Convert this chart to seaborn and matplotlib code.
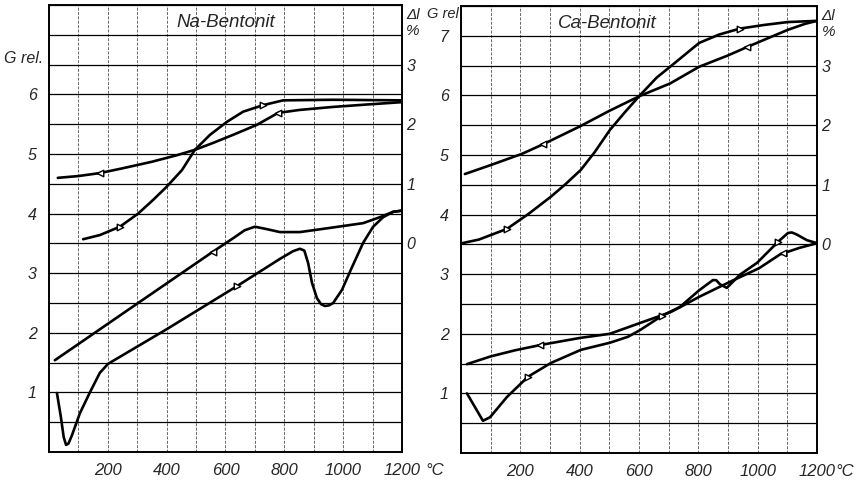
import numpy as np
import pandas as pd
import seaborn as sns
import matplotlib.pyplot as plt

# Na-Bentonit: length change (right axis, %) and relative modulus (left axis)
na_dl_cool_t = [30, 100, 173, 250, 350, 435, 496, 560, 630, 707, 779, 853, 966, 1080, 1200]
na_dl_cool = [1.10, 1.13, 1.18, 1.26, 1.37, 1.48, 1.57, 1.69, 1.83, 1.99, 2.19, 2.24, 2.29, 2.33, 2.37]
na_dl_heat_t = [116, 173, 241, 303, 354, 400, 452, 496, 547, 605, 660, 728, 796, 966, 1200]
na_dl_heat = [0.07, 0.14, 0.28, 0.50, 0.73, 0.95, 1.23, 1.57, 1.82, 2.04, 2.21, 2.32, 2.40, 2.41, 2.40]
na_g_cool_t = [20, 300, 560, 630, 665, 700, 740, 785, 853, 955, 1068, 1125, 1170, 1200]
na_g_cool = [1.54, 2.49, 3.37, 3.60, 3.72, 3.78, 3.74, 3.69, 3.69, 3.76, 3.84, 3.94, 4.03, 4.05]
na_g_heat_t = [27, 40, 50, 58, 66, 78, 105, 139, 173, 201, 400, 638, 785, 830, 853, 868, 881,
               894, 911, 925, 938, 952, 966, 996, 1030, 1068, 1102, 1136, 1170, 1200]
na_g_heat = [0.99, 0.60, 0.25, 0.12, 0.14, 0.28, 0.65, 1.00, 1.33, 1.48, 2.06, 2.78, 3.24, 3.37, 3.41, 3.38, 3.17,
             2.84, 2.58, 2.48, 2.45, 2.46, 2.50, 2.72, 3.10, 3.51, 3.78, 3.94, 4.03, 4.05]

# Ca-Bentonit
ca_dl_cool_t = [13, 100, 206, 277, 401, 500, 603, 705, 803, 900, 964, 1040, 1102, 1160, 1200]
ca_dl_cool = [1.18, 1.33, 1.52, 1.68, 1.98, 2.24, 2.49, 2.70, 2.98, 3.17, 3.31, 3.47, 3.60, 3.70, 3.75]
ca_dl_heat_t = [4, 60, 155, 230, 303, 350, 404, 451, 502, 553, 603, 660, 705, 803, 870, 940, 1020, 1102, 1200]
ca_dl_heat = [0.02, 0.08, 0.26, 0.52, 0.80, 1.00, 1.25, 1.55, 1.92, 2.22, 2.50, 2.80, 2.98, 3.38, 3.52, 3.62,
              3.68, 3.73, 3.75]
ca_g_cool_t = [20, 100, 180, 266, 401, 502, 603, 705, 740, 803, 906, 1005, 1075, 1140, 1200]
ca_g_cool = [1.49, 1.62, 1.72, 1.81, 1.93, 2.00, 2.18, 2.36, 2.45, 2.62, 2.87, 3.10, 3.33, 3.44, 3.52]
ca_g_heat_t = [20, 74, 98, 155, 226, 303, 404, 502, 563, 603, 677, 738, 803, 849, 860, 873, 896,
               940, 998, 1068, 1102, 1115, 1130, 1166, 1200]
ca_g_heat = [1.00, 0.54, 0.60, 0.94, 1.28, 1.51, 1.73, 1.85, 1.95, 2.06, 2.30, 2.45, 2.73, 2.90, 2.90, 2.83, 2.77,
             2.99, 3.19, 3.54, 3.69, 3.70, 3.67, 3.57, 3.52]

# temperatures where the little direction arrows sit
na_arrows = {'dl_cool': [173, 779], 'dl_heat': [241, 728], 'g_cool': [558], 'g_heat': [638]}
ca_arrows = {'dl_cool': [277, 964], 'dl_heat': [155, 940], 'g_cool': [266, 1086], 'g_heat': [226, 677, 1068]}

x_ticks = list(range(0, 1201, 100))
x_labels = [str(t) if t >= 200 and t % 200 == 0 else '' for t in x_ticks]
dl_ticks = [0, 1, 2, 3]

sns.set_style('white')
plt.rcParams['font.family'] = ['Liberation Sans', 'DejaVu Sans']
plt.rcParams['font.style'] = 'italic'

fig = plt.figure(figsize=(8.58, 4.8), dpi=100)


def draw_panel(rect, title, title_x, g_labels, curves, arrows, grel, deg_x):
    ax = fig.add_axes(rect)
    ax2 = ax.twinx()
    ax.set_xlim(0, 1200)
    ax.set_ylim(0, 7.5)
    ax2.set_ylim(-3.5, 4.0)

    ax.set_xticks(x_ticks)
    ax.set_xticklabels(x_labels, fontsize=12)
    yt = np.arange(0, 7.51, 0.5)
    ax.set_yticks(yt)
    ax.set_yticklabels([str(int(v)) if v in g_labels else '' for v in yt], fontsize=11.5)
    ax.tick_params(axis='both', length=0)
    ax.tick_params(axis='y', pad=9)
    ax.tick_params(axis='x', pad=8)
    ax.yaxis.grid(True, color='black', lw=0.9)
    ax.xaxis.grid(True, color='#666666', lw=0.7, linestyle=(0, (3, 1.5)))

    ax2.set_yticks(dl_ticks)
    ax2.set_yticklabels([str(v) for v in dl_ticks], fontsize=11.5)
    ax2.tick_params(axis='y', length=0, pad=3)

    for side in ['left', 'right', 'top', 'bottom']:
        ax.spines[side].set_linewidth(1.4)
        ax.spines[side].set_color('black')
        ax2.spines[side].set_visible(False)

    for key, (t, v) in curves.items():
        target = ax2 if key.startswith('dl') else ax
        sns.lineplot(x=t, y=v, ax=target, color='black', lw=1.9, sort=False, estimator=None)
        at = arrows[key]
        sns.scatterplot(x=at, y=np.interp(at, t, v), ax=target,
                        marker='>' if 'heat' in key else '<', s=22,
                        facecolor='white', edgecolor='black', linewidth=1.0, zorder=5)
    ax.set_xlabel('')
    ax.set_ylabel('')
    ax2.set_ylabel('')

    ax.text(title_x, 7.2, title, fontsize=13.5, ha='center', va='center')
    gtext, gx, gy, gha, gsize = grel
    ax.text(gx, gy, gtext, fontsize=gsize, ha=gha, va='center', clip_on=False)
    ax.text(1238, 7.33, 'Δl', fontsize=11, ha='center', va='center', clip_on=False)
    ax.text(1238, 7.06, '%', fontsize=11, ha='center', va='center', clip_on=False)
    ax.text(deg_x, -0.024, '°C', fontsize=12, ha='center', va='top',
            transform=ax.get_xaxis_transform(), clip_on=False)
    return ax


draw_panel([0.0571, 0.0583, 0.4114, 0.9313], 'Na-Bentonit', 600, [1, 2, 3, 4, 5, 6],
           {'dl_cool': (na_dl_cool_t, na_dl_cool), 'dl_heat': (na_dl_heat_t, na_dl_heat),
            'g_cool': (na_g_cool_t, na_g_cool), 'g_heat': (na_g_heat_t, na_g_heat)},
           na_arrows, ('G rel.', -85, 6.61, 'center', 11.5), 1312)

draw_panel([0.5373, 0.0563, 0.4149, 0.9313], 'Ca-Bentonit', 492, [1, 2, 3, 4, 5, 6, 7],
           {'dl_cool': (ca_dl_cool_t, ca_dl_cool), 'dl_heat': (ca_dl_heat_t, ca_dl_heat),
            'g_cool': (ca_g_cool_t, ca_g_cool), 'g_heat': (ca_g_heat_t, ca_g_heat)},
           ca_arrows, ('G rel', -8, 7.37, 'right', 10.5), 1292)

fig.savefig('out.png', dpi=100)
